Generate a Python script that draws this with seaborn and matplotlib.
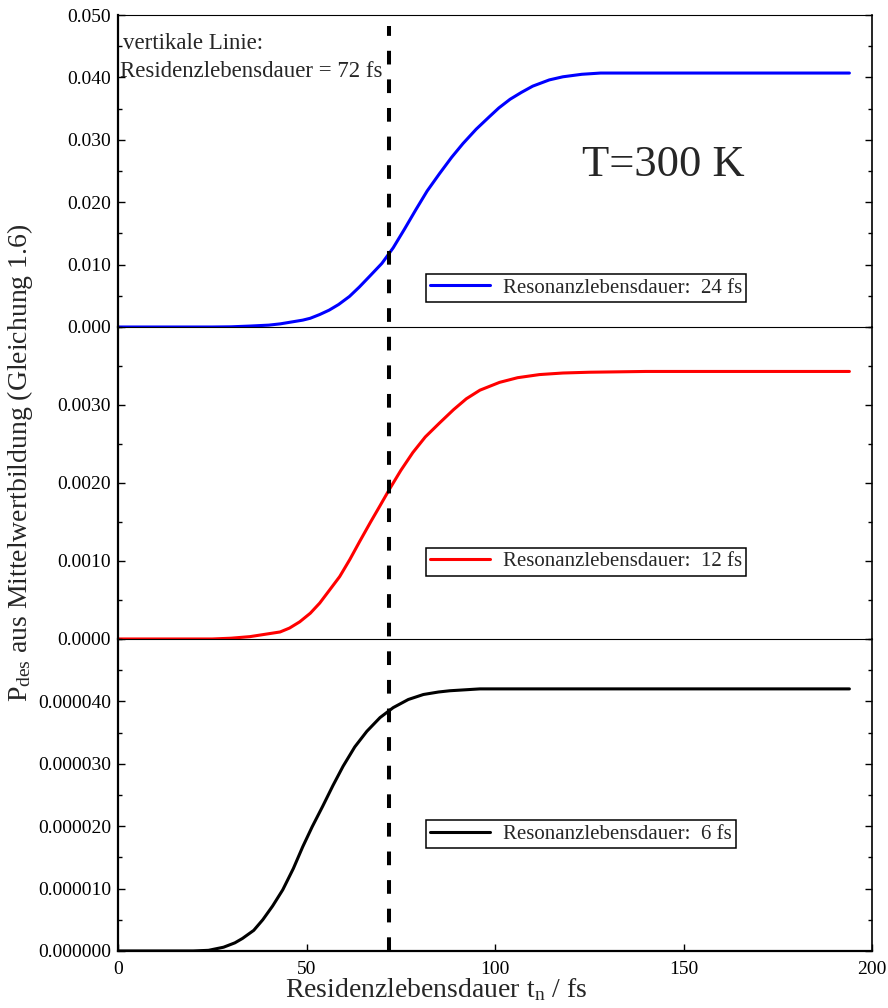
import matplotlib
matplotlib.use("Agg")
import matplotlib.pyplot as plt
import seaborn as sns
from matplotlib.lines import Line2D
from matplotlib.transforms import blended_transform_factory
from matplotlib.ticker import FixedLocator, MultipleLocator, FuncFormatter

# Residence time axis (fs) and averaged desorption probabilities for
# three resonance lifetimes at T = 300 K
t_24 = [0, 25, 30, 35, 40, 43, 46, 49, 51, 53.5, 56, 58.5, 61.4, 64, 66.7,
        70, 73, 76, 79, 82, 85.3, 88.5, 91.5, 95, 98.5, 101, 104, 107, 110,
        114.4, 118, 123, 128, 132, 194]
p_24 = [0.0, 0.0, 0.00003, 0.00015, 0.0003, 0.0005, 0.0008, 0.0011, 0.0014,
        0.0020, 0.0027, 0.0036, 0.0049, 0.0064, 0.0081, 0.0102, 0.0127,
        0.0157, 0.0188, 0.0218, 0.0246, 0.0272, 0.0294, 0.0317, 0.0337,
        0.0351, 0.0365, 0.0376, 0.0386, 0.0396, 0.0401, 0.0405, 0.0407,
        0.0407, 0.0407]

t_12 = [0, 25, 30, 35, 39, 43, 45.5, 48.2, 51, 53.5, 56, 58.8, 61.5, 64.1,
        67, 69.4, 72, 75, 78.2, 81.5, 85.3, 89, 92.4, 96, 101.2, 106, 111.8,
        118, 125, 140, 194]
p_12 = [0.0, 0.0, 0.00001, 0.00003, 0.00006, 0.00009, 0.00014, 0.00022,
        0.00033, 0.00046, 0.00062, 0.0008, 0.00102, 0.00125, 0.0015, 0.0017,
        0.00192, 0.00216, 0.00239, 0.00259, 0.00277, 0.00294, 0.00308,
        0.00319, 0.00329, 0.00335, 0.00339, 0.00341, 0.00342, 0.00343,
        0.00343]

t_6 = [0, 20, 24, 28, 31, 33, 36, 38.4, 41, 43.7, 46.5, 49, 51.5, 54.3, 57,
       59.7, 62.8, 66, 69.5, 73, 77, 81, 85, 88, 96, 120, 194]
p_6 = [0.0, 0.0, 0.01e-5, 0.06e-5, 0.13e-5, 0.20e-5, 0.33e-5, 0.50e-5,
       0.72e-5, 0.98e-5, 1.32e-5, 1.67e-5, 1.99e-5, 2.32e-5, 2.65e-5,
       2.96e-5, 3.27e-5, 3.52e-5, 3.74e-5, 3.90e-5, 4.03e-5, 4.11e-5,
       4.15e-5, 4.17e-5, 4.20e-5, 4.20e-5, 4.20e-5]

series_labels = ["Resonanzlebensdauer:  24 fs",
                 "Resonanzlebensdauer:  12 fs",
                 "Resonanzlebensdauer:  6 fs"]
series_colors = ["#0000ff", "#ff0000", "#000000"]

# y axis limits and labelled ticks of each panel
y_limits = [0.050, 0.0040, 0.000050]
y_ticks_24 = [0.000, 0.010, 0.020, 0.030, 0.040, 0.050]
y_ticks_12 = [0.0000, 0.0010, 0.0020, 0.0030]
y_ticks_6 = [0.000000, 0.000010, 0.000020, 0.000030, 0.000040]
y_decimals = [3, 4, 6]

x_ticks = [0, 50, 100, 150, 200]
residence_time = 72  # fs, marked by the dashed vertical line

sns.set_style("ticks")
plt.rcParams.update({
    "font.family": ["Liberation Serif", "DejaVu Serif"],
    "mathtext.fontset": "custom",
    "mathtext.rm": "Liberation Serif",
    "mathtext.it": "Liberation Serif:italic",
    "xtick.direction": "in",
    "ytick.direction": "in",
    "xtick.color": "black",
    "ytick.color": "black",
    "axes.edgecolor": "black",
})

fig, axes = plt.subplots(3, 1, figsize=(8.88, 10.08), dpi=100, sharex=True,
                         gridspec_kw={"hspace": 0})
fig.subplots_adjust(left=0.1329, right=0.982, top=0.9851, bottom=0.0566)

data = [(t_24, p_24, y_ticks_24), (t_12, p_12, y_ticks_12), (t_6, p_6, y_ticks_6)]
legend_y = [0.125, 0.248, 0.374]

for i, (ax, (tx, py, yt)) in enumerate(zip(axes, data)):
    ax.patch.set_visible(False)
    sns.lineplot(x=tx, y=py, ax=ax, color=series_colors[i], linewidth=2.2,
                 label=series_labels[i], sort=False, estimator=None)
    ax.set_xlim(0, 200)
    ax.set_ylim(0, y_limits[i])
    step = yt[1] - yt[0]
    ax.yaxis.set_major_locator(FixedLocator(yt))
    ax.yaxis.set_minor_locator(MultipleLocator(step / 2))
    d = y_decimals[i]
    ax.yaxis.set_major_formatter(FuncFormatter(lambda v, p, d=d: f"{v:.{d}f}"))
    ax.tick_params(axis="y", which="both", left=True, right=True,
                   labelsize=14, pad=5)
    ax.tick_params(axis="y", which="major", length=5, width=1.0)
    ax.tick_params(axis="y", which="minor", length=3, width=1.0)
    ax.set_xlabel("")
    ax.set_ylabel("")
    for side in ["top", "bottom", "left", "right"]:
        ax.spines[side].set_visible(True)
        ax.spines[side].set_color("black")
    ax.spines["left"].set_linewidth(1.6)
    ax.spines["right"].set_linewidth(1.2)
    ax.spines["top"].set_linewidth(0.8)
    ax.spines["bottom"].set_linewidth(0.8)
    if i > 0:
        ax.spines["top"].set_visible(False)
    if i < 2:
        ax.tick_params(axis="x", which="both", bottom=False, top=False)
    leg = ax.legend(loc="center left", bbox_to_anchor=(0.408, legend_y[i]),
                    borderaxespad=0, fontsize=15, frameon=True, fancybox=False,
                    framealpha=1, edgecolor="black", handlelength=2.9,
                    handletextpad=0.6, borderpad=0.2)
    leg.get_frame().set_linewidth(1.1)

ax_b = axes[2]
ax_b.spines["bottom"].set_linewidth(1.6)
ax_b.xaxis.set_major_locator(FixedLocator(x_ticks))
ax_b.tick_params(axis="x", which="major", bottom=True, top=False, length=5,
                 width=1.0, labelsize=14, pad=7)

# dashed vertical line through all three panels
trans = blended_transform_factory(ax_b.transData, fig.transFigure)
fig.add_artist(Line2D([residence_time, residence_time], [0.0566, 0.974],
                      transform=trans, color="black", linewidth=2.9,
                      linestyle=(0, (3.4, 3.7)), zorder=5))

ax_t = axes[0]
ax_t.text(0.006, 0.908, "vertikale Linie:", transform=ax_t.transAxes,
          ha="left", va="center", fontsize=16.5)
ax_t.text(0.002, 0.82, f"Residenzlebensdauer = {residence_time} fs",
          transform=ax_t.transAxes, ha="left", va="center", fontsize=16.5)
ax_t.text(0.723, 0.519, "T=300 K", transform=ax_t.transAxes,
          ha="center", va="center", fontsize=32)

fig.text(436 / 888, 1 - 990 / 1008,
         r"Residenzlebensdauer t$_\mathregular{n}$ / fs",
         ha="center", va="center", fontsize=20)
fig.text(20 / 888, 1 - 463 / 1008,
         r"P$_\mathregular{des}$ aus Mittelwertbildung (Gleichung 1.6)",
         ha="center", va="center", rotation=90, fontsize=20)

fig.savefig("out.png", dpi=100, facecolor="white")
